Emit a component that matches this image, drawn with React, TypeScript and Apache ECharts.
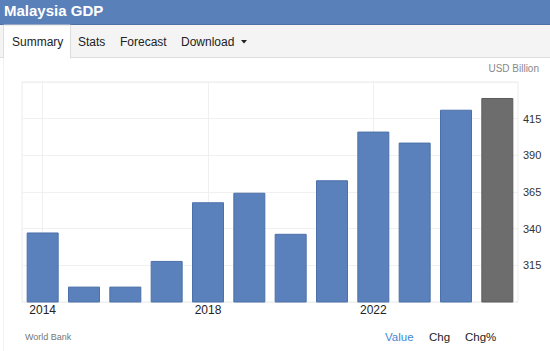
import { useEffect, useRef } from 'react';
import * as echarts from 'echarts';

const years = ['2014', '2015', '2016', '2017', '2018', '2019', '2020', '2021', '2022', '2023', '2024', '2025'];
const gdp = [337.4, 300.5, 300.5, 318.0, 358.0, 364.5, 336.5, 373.0, 406.2, 398.7, 421.1, 429.1];
const title = 'Malaysia GDP';
const tabs = ['Summary', 'Stats', 'Forecast', 'Download'];
const unit = 'USD Billion';
const source = 'World Bank';
const modes = ['Value', 'Chg', 'Chg%'];

const FONT = '"Liberation Sans", Arial, Helvetica, sans-serif';

export default function App() {
  const ref = useRef<HTMLDivElement>(null);
  useEffect(() => {
    document.body.style.margin = '0';
    const chart = echarts.init(ref.current!, undefined, { renderer: 'svg' });
    const last = gdp.length - 1;
    const data = gdp.map((v, i) =>
      i === last
        ? { value: v, itemStyle: { color: '#6d6d6d', borderColor: '#5c5c5c' } }
        : v
    );
    const tabX = [12, 78, 120, 181];
    const modeX = [385, 429, 465];
    chart.setOption({
      animation: false,
      textStyle: { fontFamily: FONT },
      grid: { left: 22, right: 32, top: 82, bottom: 49, show: true, borderColor: '#ececec', borderWidth: 1, containLabel: false },
      xAxis: {
        type: 'category',
        data: years,
        axisLine: { show: false },
        axisTick: { show: false, alignWithLabel: true },
        axisLabel: { interval: 3, color: '#222', fontSize: 12, margin: 2, fontFamily: FONT },
        splitLine: { show: true, interval: 3, alignWithLabel: true, lineStyle: { color: '#f0f0f0', width: 1 } },
      },
      yAxis: {
        type: 'value',
        position: 'right',
        min: 290,
        max: 440,
        interval: 25,
        axisLine: { show: false },
        axisTick: { show: false },
        axisLabel: { color: '#333', fontSize: 11, margin: 5, showMinLabel: false, showMaxLabel: false, fontFamily: FONT },
        splitLine: { lineStyle: { color: '#f0f0f0', width: 1 } },
      },
      series: [
        {
          type: 'bar',
          data,
          barWidth: 32,
          itemStyle: { color: '#5a81bb', borderColor: '#4c71a8', borderWidth: 1 },
        },
      ],
      graphic: [
        { type: 'rect', shape: { x: 0, y: 0, width: 550, height: 24 }, style: { fill: '#5a80b9' }, silent: true },
        { type: 'rect', shape: { x: 0, y: 24, width: 550, height: 34 }, style: { fill: '#f4f4f4' }, silent: true },
        { type: 'line', shape: { x1: 0, y1: 24.5, x2: 550, y2: 24.5 }, style: { stroke: '#4f72a6', lineWidth: 1 }, silent: true },
        { type: 'line', shape: { x1: 0, y1: 57.5, x2: 550, y2: 57.5 }, style: { stroke: '#dddddd', lineWidth: 1 }, silent: true },
        { type: 'rect', shape: { x: 3.5, y: 25, width: 67, height: 33 }, style: { fill: '#ffffff', stroke: '#dddddd', lineWidth: 1 }, silent: true },
        { type: 'rect', shape: { x: 4, y: 57, width: 66, height: 2 }, style: { fill: '#ffffff' }, silent: true },
        { type: 'line', shape: { x1: 3.5, y1: 58, x2: 3.5, y2: 351 }, style: { stroke: '#f2f2f2', lineWidth: 1 }, silent: true },
        {
          type: 'text', left: 4, top: 3,
          style: { text: title, fill: '#ffffff', font: `bold 15px ${FONT}` },
        },
        ...tabs.map((t, i) => ({
          type: 'text', x: tabX[i], y: 42,
          style: { text: t, fill: '#222', font: `12px ${FONT}`, textVerticalAlign: 'middle' },
        })),
        { type: 'polygon', shape: { points: [[241, 40], [247, 40], [244, 43.5]] }, style: { fill: '#222' }, silent: true },
        {
          type: 'text', x: 539, y: 68.5,
          style: { text: unit, fill: '#888', font: `10px ${FONT}`, textAlign: 'right', textVerticalAlign: 'middle' },
        },
        {
          type: 'text', x: 25, y: 337,
          style: { text: source, fill: '#777', font: `9px ${FONT}`, textVerticalAlign: 'middle' },
        },
        ...modes.map((m, i) => ({
          type: 'text', x: modeX[i], y: 337,
          style: { text: m, fill: i === 0 ? '#3f86d6' : '#222', font: `11.5px ${FONT}`, textVerticalAlign: 'middle' },
        })),
      ],
    });
    return () => chart.dispose();
  }, []);
  return <div ref={ref} style={{ width: 550, height: 351, position: 'absolute', left: 0, top: 0, background: '#fff' }} />;
}
